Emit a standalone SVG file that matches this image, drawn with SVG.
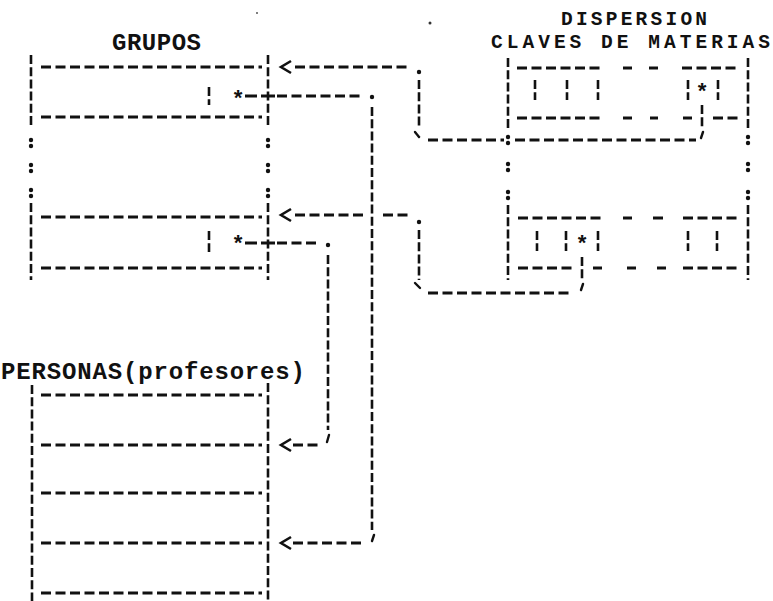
<svg xmlns="http://www.w3.org/2000/svg" width="773" height="601" viewBox="0 0 773 601">
<style>
.h{stroke:#111;stroke-width:3;stroke-dasharray:10 4.5;fill:none}
.v{stroke:#111;stroke-width:2.6;stroke-dasharray:9 3.2;fill:none}
.s{stroke:#111;stroke-width:3;fill:none}
.a{stroke:#111;stroke-width:2.6;fill:none;stroke-linejoin:miter}
.k{stroke:#111;stroke-width:2.4;fill:none;stroke-linecap:round}
.t{font-family:"Liberation Mono","Courier New",monospace;font-weight:bold;font-size:24px;fill:#111}
.t2{font-family:"Liberation Mono","Courier New",monospace;font-weight:bold;font-size:19.5px;fill:#111}
.st{font-family:"Liberation Mono","Courier New",monospace;font-weight:bold;font-size:22px;fill:#111;text-anchor:middle}
</style>
<defs>
<g id="colon" fill="#111"><circle cx="0" cy="-3" r="2.2"/><circle cx="0" cy="3" r="2.2"/></g>
</defs>
<rect width="773" height="601" fill="#fff"/>
<circle cx="257" cy="13" r="1" fill="#555"/>
<circle cx="430" cy="23" r="1.5" fill="#333"/>

<g id="grupos">
<text class="t" x="112" y="50" textLength="89" lengthAdjust="spacing">GRUPOS</text>
<line class="v" x1="31" y1="55" x2="31" y2="128"/>
<line class="v" x1="268" y1="55" x2="268" y2="128"/>
<line class="v" x1="31" y1="203" x2="31" y2="280"/>
<line class="v" x1="268" y1="203" x2="268" y2="280"/>
<use href="#colon" x="31" y="143"/><use href="#colon" x="31" y="168"/><use href="#colon" x="31" y="193"/>
<use href="#colon" x="268" y="143"/><use href="#colon" x="268" y="168"/><use href="#colon" x="268" y="193"/>
<line class="h" x1="41" y1="67" x2="262" y2="67"/>
<line class="h" x1="41" y1="117" x2="262" y2="117"/>
<line class="h" x1="41" y1="217" x2="262" y2="217"/>
<line class="h" x1="41" y1="268" x2="262" y2="268"/>
<line class="v" x1="209" y1="87" x2="209" y2="105"/>
<line class="v" x1="209" y1="231" x2="209" y2="252"/>
<text class="st" x="238" y="106">*</text>
<text class="st" x="238" y="251">*</text>
</g>

<g id="dispersion">
<text class="t2" x="561" y="25" textLength="146" lengthAdjust="spacing">DISPERSION</text>
<text class="t2" x="491" y="48" textLength="279" lengthAdjust="spacing">CLAVES DE MATERIAS</text>
<line class="v" x1="508" y1="58" x2="508" y2="128"/>
<line class="v" x1="748" y1="58" x2="748" y2="128"/>
<line class="v" x1="508" y1="205" x2="508" y2="280"/>
<line class="v" x1="748" y1="205" x2="748" y2="280"/>
<use href="#colon" x="508" y="140"/><use href="#colon" x="508" y="167"/><use href="#colon" x="508" y="195"/>
<use href="#colon" x="748" y="140"/><use href="#colon" x="748" y="167"/><use href="#colon" x="748" y="195"/>
<line class="h" x1="517" y1="68" x2="603" y2="68"/>
<line class="s" x1="623" y1="68" x2="632" y2="68"/>
<line class="s" x1="649" y1="68" x2="658" y2="68"/>
<line class="h" x1="682" y1="68" x2="740" y2="68"/>
<line class="v" x1="535" y1="80" x2="535" y2="100"/>
<line class="v" x1="567" y1="80" x2="567" y2="100"/>
<line class="v" x1="598" y1="80" x2="598" y2="100"/>
<line class="v" x1="688" y1="80" x2="688" y2="100"/>
<line class="v" x1="718" y1="80" x2="718" y2="100"/>
<text class="st" x="702" y="99">*</text>
<line class="h" x1="517" y1="118" x2="603" y2="118"/>
<line class="s" x1="623" y1="118" x2="632" y2="118"/>
<line class="s" x1="650" y1="118" x2="658" y2="118"/>
<line class="s" x1="683" y1="118" x2="692" y2="118"/>
<line class="h" x1="713" y1="118" x2="740" y2="118"/>
<line class="h" x1="518" y1="218" x2="604" y2="218"/>
<line class="s" x1="623" y1="218" x2="632" y2="218"/>
<line class="s" x1="653" y1="218" x2="663" y2="218"/>
<line class="h" x1="683" y1="218" x2="740" y2="218"/>
<line class="v" x1="537" y1="231" x2="537" y2="251"/>
<line class="v" x1="566" y1="231" x2="566" y2="251"/>
<line class="v" x1="598" y1="231" x2="598" y2="251"/>
<line class="v" x1="688" y1="231" x2="688" y2="251"/>
<line class="v" x1="717" y1="231" x2="717" y2="251"/>
<text class="st" x="582" y="251">*</text>
<line class="h" x1="518" y1="268" x2="576" y2="268"/>
<line class="s" x1="593" y1="268" x2="602" y2="268"/>
<line class="s" x1="627" y1="268" x2="636" y2="268"/>
<line class="s" x1="657" y1="268" x2="666" y2="268"/>
<line class="h" x1="683" y1="268" x2="740" y2="268"/>
</g>

<g id="personas">
<text class="t" x="1" y="379" textLength="304" lengthAdjust="spacing">PERSONAS(profesores)</text>
<line class="v" x1="32" y1="385" x2="32" y2="601"/>
<line class="v" x1="268" y1="383" x2="268" y2="601"/>
<line class="h" x1="41" y1="395" x2="262" y2="395"/>
<line class="h" x1="41" y1="445" x2="262" y2="445"/>
<line class="h" x1="41" y1="493" x2="262" y2="493"/>
<line class="h" x1="41" y1="543" x2="262" y2="543"/>
<line class="h" x1="41" y1="593" x2="262" y2="593"/>
</g>

<g id="connectors">
<line class="v" x1="702" y1="105" x2="702" y2="129"/>
<line class="k" x1="703" y1="132" x2="701" y2="138"/>
<line class="h" x1="515" y1="140" x2="696" y2="140"/>
<line class="h" x1="428" y1="140" x2="504" y2="140"/>
<line class="k" x1="415" y1="132" x2="419" y2="137"/>
<line class="v" x1="419" y1="80" x2="419" y2="128"/>
<circle cx="419" cy="72" r="2.2" fill="#111"/>
<line class="h" x1="295" y1="67" x2="411" y2="67"/>
<polyline class="a" points="291,61 281,67 291,73"/>
<line class="s" x1="245" y1="96" x2="257" y2="96"/>
<line class="s" x1="261" y1="96" x2="275" y2="96"/>
<line class="h" x1="277" y1="96" x2="364" y2="96"/>
<circle cx="372" cy="97" r="2.2" fill="#111"/>
<line class="v" x1="372" y1="107" x2="372" y2="530"/>
<line class="k" x1="374" y1="535" x2="372" y2="541"/>
<line class="h" x1="293" y1="543" x2="364" y2="543"/>
<polyline class="a" points="291,537 281,543 291,549"/>
<line class="v" x1="582" y1="257" x2="582" y2="280"/>
<line class="k" x1="583" y1="284" x2="581" y2="290"/>
<line class="h" x1="428" y1="293" x2="569" y2="293"/>
<line class="k" x1="415" y1="283" x2="420" y2="288"/>
<line class="v" x1="419" y1="230" x2="419" y2="280"/>
<circle cx="419" cy="222" r="2.2" fill="#111"/>
<line class="h" x1="383" y1="215" x2="411" y2="215"/>
<line class="h" x1="295" y1="215" x2="364" y2="215"/>
<polyline class="a" points="291,209 281,215 291,221"/>
<line class="s" x1="245" y1="243" x2="257" y2="243"/>
<line class="s" x1="261" y1="243" x2="275" y2="243"/>
<line class="h" x1="277" y1="243" x2="319" y2="243"/>
<circle cx="328" cy="245" r="2.2" fill="#111"/>
<line class="v" x1="328" y1="255" x2="328" y2="430"/>
<line class="k" x1="329" y1="435" x2="327" y2="442"/>
<line class="h" x1="293" y1="445" x2="321" y2="445"/>
<polyline class="a" points="291,439 281,445 291,451"/>
</g>
</svg>
